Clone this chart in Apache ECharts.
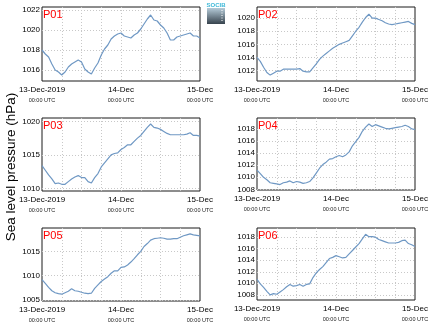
<!DOCTYPE html>
<html><head><meta charset="utf-8">
<script src="https://cdn.jsdelivr.net/npm/echarts@6/dist/echarts.min.js"></script>
<style>html,body{margin:0;padding:0;background:#fff}#c{width:434px;height:327px}</style>
</head><body><div id="c"></div>
<script>
// hours since 13-Dec-2019 00:00 UTC
const hours = [0,1,2,3,4,5,6,7,8,9,10,11,12,13,14,15,16,17,18,19,20,21,22,23,24,25,26,27,28,29,30,31,32,33,34,35,36,37,38,39,40,41,42,43,44,45,46,47,48];
const p01 = [1018.0,1017.6,1017.3,1016.6,1016.0,1015.8,1015.5,1015.8,1016.3,1016.6,1016.8,1017.0,1016.8,1016.1,1015.8,1015.6,1016.2,1016.7,1017.5,1018.1,1018.5,1019.1,1019.4,1019.6,1019.7,1019.4,1019.3,1019.2,1019.5,1019.7,1020.1,1020.6,1021.1,1021.5,1021.0,1020.9,1020.5,1020.2,1019.7,1019.0,1019.0,1019.3,1019.4,1019.5,1019.6,1019.7,1019.4,1019.4,1019.2];
const p02 = [1014.0,1013.4,1012.5,1011.7,1011.3,1011.6,1011.9,1011.9,1012.2,1012.2,1012.2,1012.2,1012.2,1012.3,1011.9,1011.8,1011.8,1012.4,1013.0,1013.7,1014.2,1014.6,1015.0,1015.4,1015.7,1016.0,1016.2,1016.4,1016.6,1017.3,1018.0,1018.6,1019.4,1020.1,1020.6,1020.0,1020.0,1019.8,1019.6,1019.3,1019.1,1019.0,1019.1,1019.2,1019.3,1019.4,1019.5,1019.2,1019.0];
const p03 = [1013.4,1012.7,1012.0,1011.4,1010.7,1010.8,1010.6,1010.6,1011.0,1011.4,1011.7,1011.9,1011.6,1011.6,1011.0,1010.8,1011.6,1012.2,1013.2,1013.8,1014.4,1015.0,1015.2,1015.3,1015.8,1016.1,1016.5,1016.5,1017.0,1017.5,1017.9,1018.5,1019.1,1019.6,1019.1,1019.0,1018.8,1018.5,1018.2,1018.0,1018.0,1018.0,1018.0,1018.0,1018.1,1018.3,1017.9,1017.9,1017.8];
const p04 = [1011.2,1010.6,1010.0,1009.6,1009.1,1009.0,1008.9,1008.8,1009.1,1009.2,1009.4,1009.1,1009.3,1009.2,1009.0,1009.1,1009.3,1009.9,1010.7,1011.5,1012.1,1012.5,1013.0,1013.1,1013.4,1013.6,1013.4,1013.7,1014.2,1015.2,1015.9,1016.6,1017.6,1018.3,1018.8,1018.4,1018.7,1018.5,1018.3,1018.1,1018.0,1018.1,1018.2,1018.3,1018.4,1018.6,1018.4,1018.0,1017.9];
const p05 = [1009.2,1008.4,1007.6,1006.9,1006.5,1006.3,1006.2,1006.5,1006.8,1007.3,1006.9,1006.8,1006.6,1006.4,1006.3,1006.4,1007.4,1008.1,1008.8,1009.3,1009.8,1010.5,1011.0,1011.0,1011.7,1011.8,1012.2,1012.8,1013.5,1014.3,1015.0,1016.0,1016.6,1017.3,1017.6,1017.7,1017.8,1017.7,1017.5,1017.5,1017.6,1017.6,1017.9,1018.2,1018.4,1018.6,1018.4,1018.3,1018.2];
const p06 = [1010.7,1009.9,1009.3,1008.6,1008.0,1008.2,1008.1,1008.5,1008.9,1009.4,1009.8,1009.5,1009.6,1009.8,1009.5,1009.8,1009.9,1011.0,1011.8,1012.4,1012.9,1013.6,1014.3,1014.5,1014.8,1014.6,1014.4,1014.5,1015.1,1015.7,1016.3,1016.9,1017.7,1018.5,1018.1,1018.1,1018.0,1017.6,1017.4,1017.2,1017.0,1017.0,1017.0,1017.1,1017.4,1017.5,1016.9,1016.7,1016.4];
const panelNames = ['P01','P02','P03','P04','P05','P06'];
const yMin = [1014.9, 1010.4, 1009.6, 1007.9, 1004.8, 1007.1];
const yMax = [1022.3, 1021.7, 1020.5, 1019.8, 1019.8, 1019.6];
const yStep = [2, 2, 5, 2, 5, 2];
const dayLabels = {0: '13-Dec-2019', 24: '14-Dec', 48: '15-Dec'};
const timeLabel = '00:00 UTC';
const yTitle = 'Sea level pressure (hPa)';

const seriesData = [p01, p02, p03, p04, p05, p06];
const FONT = '"Liberation Sans", Arial, Helvetica, sans-serif';
const lefts = [42, 257];
const tops = [7, 118, 228];
const heights = [74, 74, 73, 72, 73, 72];

const chart = echarts.init(document.getElementById('c'), null, {renderer: 'canvas'});
const grid = [], xAxis = [], yAxis = [], series = [], title = [];
for (let i = 0; i < 6; i++) {
  const L = lefts[i % 2], T = tops[Math.floor(i / 2)];
  grid.push({left: L, top: T, width: 158, height: heights[i], show: true,
    borderColor: '#1a1a1a', borderWidth: 1, backgroundColor: '#fff'});
  xAxis.push({gridIndex: i, type: 'value', min: 0, max: 48, interval: 6,
    axisLine: {show: false}, axisTick: {show: false},
    splitLine: {show: true, showMinLine: false, showMaxLine: false, lineStyle: {color: '#c8c8c8', type: [1, 2], width: 1}},
    axisLabel: {margin: 4, fontFamily: FONT, color: '#000',
      formatter: v => dayLabels[v] !== undefined ? '{a|' + dayLabels[v] + '}\n{b|' + timeLabel + '}' : '',
      rich: {a: {fontSize: 8, lineHeight: 10, fontFamily: FONT, color: '#000'},
             b: {fontSize: 5.5, lineHeight: 10, fontFamily: FONT, color: '#222'}}}});
  const step = yStep[i];
  yAxis.push({gridIndex: i, type: 'value', min: yMin[i], max: yMax[i], minInterval: step, maxInterval: step,
    axisLine: {show: false}, axisTick: {show: false},
    splitLine: {show: true, showMinLine: false, showMaxLine: false, lineStyle: {color: '#c8c8c8', type: [1, 2], width: 1}},
    axisLabel: {margin: 2, fontSize: 8, fontFamily: FONT, color: '#000',
      formatter: v => Math.abs(v / step - Math.round(v / step)) < 1e-6 ? String(Math.round(v)) : ''}});
  series.push({type: 'line', xAxisIndex: i, yAxisIndex: i, showSymbol: false, animation: false,
    data: hours.map((h, k) => [h, seriesData[i][k]]),
    lineStyle: {color: '#6f98c4', width: 1.2}});
  title.push({text: panelNames[i], left: L + 1, top: T + 2, padding: 0,
    textStyle: {color: '#ff0000', fontSize: 11, fontWeight: 'normal', fontFamily: FONT}});
}

chart.setOption({
  animation: false,
  backgroundColor: '#fff',
  title, grid, xAxis, yAxis, series,
  graphic: [
    {type: 'text', x: 11, y: 167, rotation: Math.PI / 2,
      style: {text: yTitle, fontSize: 13.5, fontFamily: FONT, fill: '#000', textAlign: 'center', textVerticalAlign: 'middle'}},
    {type: 'rect', shape: {x: 207, y: 8, width: 18, height: 16},
      style: {fill: new echarts.graphic.LinearGradient(0, 0, 0, 1, [{offset: 0, color: '#b5cbd8'}, {offset: 1, color: '#37434d'}])}},
    {type: 'line', shape: {x1: 222, y1: 10, x2: 222, y2: 22}, style: {stroke: '#fff', lineWidth: 1, lineDash: [1, 1.5]}},
    {type: 'text', x: 216, y: 5, style: {text: 'SOCIB', fontSize: 6, fontWeight: 'bold', fontFamily: FONT, fill: '#3cb8d8', textAlign: 'center', textVerticalAlign: 'middle'}}
  ]
});
</script></body></html>
